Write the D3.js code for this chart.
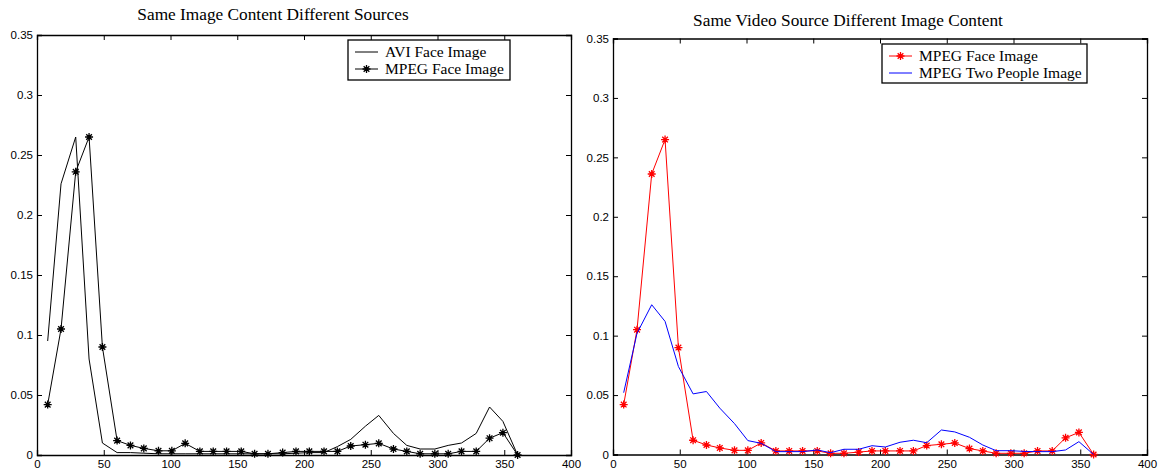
<!DOCTYPE html>
<html>
<head>
<meta charset="utf-8">
<script src="https://cdn.jsdelivr.net/npm/d3@7"></script>
<style>
  body { margin: 0; background: #fff; }
  .tick text { font-family: "Liberation Sans", Arial, sans-serif; font-size: 11.5px; fill: #000; }
  .title, .legend text { font-family: "Liberation Serif", "Times New Roman", serif; fill: #000; }
</style>
</head>
<body>
<svg id="chart" width="1159" height="472"></svg>
<script>
// bin centres on the x axis
const binX = [8, 18, 29, 39, 49, 60, 70, 80, 91, 101, 111, 122, 132, 142, 153, 163, 173, 184,
  194, 204, 215, 225, 235, 246, 256, 267, 277, 287, 298, 308, 318, 329, 339, 349, 360];

const aviFace = [0.095, 0.226, 0.265, 0.080, 0.010, 0.002, 0.002, 0.0015, 0.001, 0.001, 0.001, 0.001,
  0.001, 0.001, 0.001, 0.001, 0.001, 0.001, 0.0015, 0.002, 0.002, 0.007, 0.013, 0.024, 0.033, 0.018,
  0.008, 0.005, 0.005, 0.008, 0.010, 0.018, 0.040, 0.028, 0.0];

const mpegFace = [0.042, 0.105, 0.236, 0.265, 0.090, 0.012, 0.008, 0.0055, 0.0035, 0.0035, 0.0097, 0.003,
  0.003, 0.003, 0.003, 0.001, 0.001, 0.002, 0.003, 0.003, 0.003, 0.003, 0.0075, 0.0086, 0.0097, 0.005,
  0.003, 0.001, 0.001, 0.001, 0.003, 0.003, 0.014, 0.0186, 0.0];

const mpegTwoPeople = [0.052, 0.102, 0.126, 0.112, 0.074, 0.051, 0.053, 0.039, 0.026, 0.0117, 0.0094, 0.0024,
  0.0024, 0.0024, 0.0038, 0.0015, 0.0044, 0.0044, 0.0074, 0.0063, 0.0103, 0.012, 0.0099, 0.0206, 0.019, 0.0145,
  0.008, 0.0032, 0.0032, 0.0026, 0.0024, 0.0024, 0.0038, 0.0108, 0.0];

const xTicks = [0, 50, 100, 150, 200, 250, 300, 350, 400];
const yTicks = [0, 0.05, 0.1, 0.15, 0.2, 0.25, 0.3, 0.35];

const panels = [
  {title: 'Same Image Content Different Sources', x0: 37, x1: 571, y0: 35, y1: 455, titleX: 273, titleY: 20,
    legend: {x: 348, y: 40, w: 162, h: 40},
    series: [
      {name: 'AVI Face Image', values: aviFace, color: '#000', star: false},
      {name: 'MPEG Face Image', values: mpegFace, color: '#000', star: true}
    ]},
  {title: 'Same Video Source Different Image Content', x0: 613, x1: 1147, y0: 38.5, y1: 454.5, titleX: 848, titleY: 26,
    legend: {x: 882, y: 44, w: 205, h: 39},
    series: [
      {name: 'MPEG Face Image', values: mpegFace, color: '#ff0000', star: true},
      {name: 'MPEG Two People Image', values: mpegTwoPeople, color: '#0000ff', star: false}
    ]}
];

const svg = d3.select('#chart');

// matlab-style asterisk marker
function star(g, cx, cy, r, color) {
  const d = [0, 45, 90, 135].map(a => {
    const t = a * Math.PI / 180;
    return `M${cx - r * Math.cos(t)},${cy - r * Math.sin(t)}L${cx + r * Math.cos(t)},${cy + r * Math.sin(t)}`;
  }).join('');
  g.append('path').attr('d', d).attr('stroke', color).attr('stroke-width', 1.3).attr('fill', 'none');
}

panels.forEach(p => {
  const x = d3.scaleLinear().domain([0, 400]).range([p.x0, p.x1]);
  const y = d3.scaleLinear().domain([0, 0.35]).range([p.y1, p.y0]);
  const g = svg.append('g');

  g.append('text').attr('class', 'title')
    .attr('x', p.titleX).attr('y', p.titleY)
    .attr('text-anchor', 'middle').attr('font-size', 17.3)
    .text(p.title);

  const fmt = d => d === 0 ? '0' : String(d);

  g.append('g').attr('transform', `translate(0,${p.y1})`)
    .call(d3.axisBottom(x).tickValues(xTicks).tickSize(-5).tickPadding(5).tickFormat(fmt));
  g.append('g').attr('transform', `translate(0,${p.y0})`)
    .call(d3.axisTop(x).tickValues(xTicks).tickSize(-5).tickFormat(''));
  g.append('g').attr('transform', `translate(${p.x0},0)`)
    .call(d3.axisLeft(y).tickValues(yTicks).tickSize(-5).tickPadding(4).tickFormat(fmt));
  g.append('g').attr('transform', `translate(${p.x1},0)`)
    .call(d3.axisRight(y).tickValues(yTicks).tickSize(-5).tickFormat(''));

  g.selectAll('.domain').attr('stroke', '#000').attr('stroke-width', 1.3);
  g.selectAll('.tick line').attr('stroke', '#000');

  const line = d3.line().x((d, i) => x(binX[i])).y(d => y(d));

  p.series.forEach(s => {
    g.append('path').datum(s.values)
      .attr('d', line)
      .attr('fill', 'none')
      .attr('stroke', s.color)
      .attr('stroke-width', 1);
    if (s.star) {
      s.values.forEach((v, i) => star(g, x(binX[i]), y(v), 4, s.color));
    }
  });

  // legend
  const L = p.legend;
  const lg = g.append('g').attr('class', 'legend');
  lg.append('rect').attr('x', L.x).attr('y', L.y).attr('width', L.w).attr('height', L.h)
    .attr('fill', '#fff').attr('stroke', '#000').attr('stroke-width', 1.3);
  p.series.forEach((s, i) => {
    const cy = L.y + 12 + i * 17;
    lg.append('line').attr('x1', L.x + 7).attr('x2', L.x + 30).attr('y1', cy).attr('y2', cy)
      .attr('stroke', s.color).attr('stroke-width', 1);
    if (s.star) star(lg, L.x + 18.5, cy, 4, s.color);
    lg.append('text').attr('x', L.x + 37).attr('y', cy + 5).attr('font-size', 15.5).text(s.name);
  });
});
</script>
</body>
</html>
